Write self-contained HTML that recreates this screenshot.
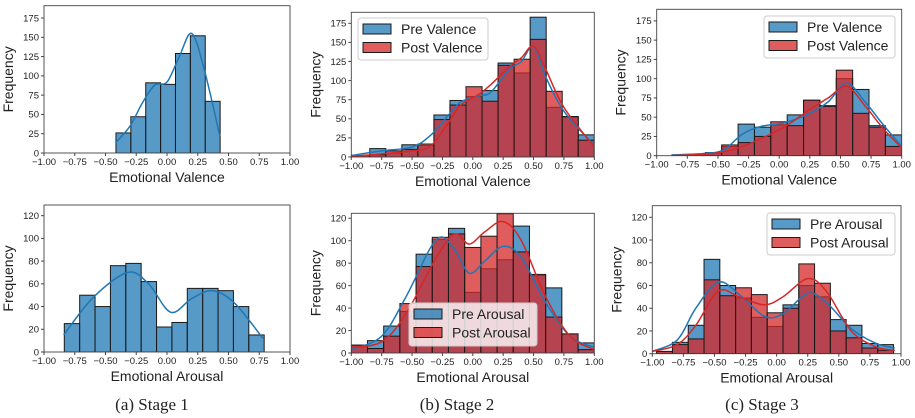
<!DOCTYPE html>
<html><head><meta charset="utf-8"><style>
body{margin:0;background:#fff;width:915px;height:418px;overflow:hidden}
svg{display:block}
text{font-family:"Liberation Sans","DejaVu Sans",sans-serif;fill:#222}
</style></head><body>
<svg id="fig" width="915" height="418" viewBox="0 0 915 418" xmlns="http://www.w3.org/2000/svg"></svg>
<script>
// ---- data ----
const vTicks=[-1,-0.75,-0.5,-0.25,0,0.25,0.5,0.75,1];
const vTickLabels=["\u22121.00","\u22120.75","\u22120.50","\u22120.25","0.00","0.25","0.50","0.75","1.00"];
const yTicksTop=[0,25,50,75,100,125,150,175];
const yTicksBot=[0,20,40,60,80,100,120];

// Stage 1 valence
const s1vStart=-0.415, s1vWidth=0.121;
const s1vPre=[26,47,91,89,129,152,67];
const s1vKdeX=[-0.42,-0.3,-0.2,-0.1,0,0.1,0.2,0.3,0.43];
const s1vKdeY=[13,35,65,88,92,125,155,110,22];
// Stage 2 valence
const s2vStart=-0.98, s2vWidth=0.132;
const s2vPre=[2,11,5,16,15,55,74,79,87,123,110,183,65,52,29];
const s2vPost=[2,3,8,10,17,49,68,92,73,120,128,154,86,53,22];
const s2vKdeX=[-1,-0.75,-0.5,-0.35,-0.2,-0.1,0.05,0.15,0.3,0.4,0.5,0.6,0.75,1];
const s2vPreKde=[2,8,13,28,55,72,80,85,115,125,145,105,60,15];
const s2vPostKde=[1,4,8,14,45,68,82,95,118,130,145,115,65,13];
// Stage 3 valence
const s3vStart=-0.87, s3vWidth=0.1336;
const s3vPre=[1,2,3,12,41,37,40,53,72,65,100,86,39,27];
const s3vPost=[0,2,4,14,17,25,44,39,72,64,111,55,37,12];
const s3vKdeX=[-0.88,-0.6,-0.45,-0.3,-0.15,0.05,0.25,0.4,0.55,0.7,0.85,1];
const s3vPreKde=[1,3,8,28,38,43,55,70,94,70,40,12];
const s3vPostKde=[0,2,5,12,22,38,60,75,90,65,35,10];
// Stage 1 arousal
const s1aStart=-0.835, s1aWidth=0.125;
const s1aPre=[25,50,40,76,78,62,22,26,56,56,54,40,15];
const s1aKdeX=[-0.84,-0.6,-0.32,-0.15,0.03,0.2,0.37,0.55,0.78];
const s1aKdeY=[15,48,70,60,35,47,54,43,12];
// Stage 2 arousal
const s2aStart=-1, s2aWidth=0.1333;
const s2aPre=[7,11,24,37,88,101,111,54,75,83,113,69,58,17,9];
const s2aPost=[7,4,15,44,77,103,106,94,104,124,90,70,32,17,3];
const s2aKdeX=[-1,-0.75,-0.55,-0.3,-0.15,-0.03,0.1,0.25,0.4,0.6,0.8,1];
const s2aPreKde=[3,15,50,101,92,71,82,95,85,45,15,5];
const s2aPostKde=[5,10,35,85,106,97,108,117,100,50,15,3];
// Stage 3 arousal
const s3aStart=-0.965, s3aWidth=0.127;
const s3aPre=[2,10,25,83,60,49,32,24,43,60,50,30,25,9,8];
const s3aPost=[2,8,13,65,51,58,52,36,40,79,62,20,14,5,3];
const s3aKdeX=[-1,-0.8,-0.65,-0.47,-0.3,-0.1,0.05,0.25,0.4,0.6,0.8,0.95];
const s3aPreKde=[2,12,40,63,52,33,35,53,45,22,9,5];
const s3aPostKde=[2,8,25,55,50,43,50,66,55,20,6,3];

// ---- drawing ----
const NS="http://www.w3.org/2000/svg";
const svg=document.getElementById('fig');
function mk(tag,attrs,parent){const e=document.createElementNS(NS,tag);for(const k in attrs)e.setAttribute(k,attrs[k]);(parent||svg).appendChild(e);return e;}
const BLUE="#1f77b4",RED="#d62728";

function smooth(pts){
  let d="M"+pts[0][0]+","+pts[0][1];
  for(let i=0;i<pts.length-1;i++){
    const p0=pts[Math.max(0,i-1)],p1=pts[i],p2=pts[i+1],p3=pts[Math.min(pts.length-1,i+2)];
    const c1=[p1[0]+(p2[0]-p0[0])/6,p1[1]+(p2[1]-p0[1])/6];
    const c2=[p2[0]-(p3[0]-p1[0])/6,p2[1]-(p3[1]-p1[1])/6];
    d+=" C"+c1[0]+","+c1[1]+" "+c2[0]+","+c2[1]+" "+p2[0]+","+p2[1];
  }
  return d;
}

function panel(cfg){
  const g=mk('g',{});
  
  
  const L=cfg.L,R=cfg.R,T=cfg.T,B=cfg.B;
  const xs=v=>L+(v+1)/2*(R-L);
  const ys=v=>B-v/cfg.ymax*(B-T);
  const clip='c'+cfg.name;
  const cp=mk('clipPath',{id:clip},g);mk('rect',{x:L,y:T,width:R-L,height:B-T},cp);
  const pg=mk('g',{'clip-path':'url(#'+clip+')'},g);
  cfg.series.forEach(s=>{
    s.vals.forEach((v,i)=>{
      if(v<=0)return;
      const x0=xs(cfg.start+i*cfg.width),x1=xs(cfg.start+(i+1)*cfg.width);
      const r=mk('rect',{x:x0,y:ys(v),width:x1-x0,height:B-ys(v),fill:s.color,'fill-opacity':0.75,stroke:'#1a1a1a','stroke-width':1},pg);
      
      
    });
  });
  cfg.series.forEach(s=>{
    const pts=s.kx.map((x,i)=>[xs(x),ys(s.ky[i])]);
    const p=mk('path',{d:smooth(pts),fill:'none',stroke:s.color,'stroke-width':1.5},pg);
    
    
  });
  mk('rect',{x:L,y:T,width:R-L,height:B-T,fill:'none',stroke:'#444','stroke-width':0.9},g);
  vTicks.forEach((t,i)=>{
    const x=xs(t);
    mk('line',{x1:x,x2:x,y1:B,y2:B+3,stroke:'#444'},g);
    const tx=mk('text',{x:x,y:B+12,'text-anchor':'middle','font-size':9.5},g);
    tx.textContent=vTickLabels[i];
    
    
  });
  cfg.yticks.forEach(t=>{
    const y=ys(t);
    mk('line',{x1:L-3,x2:L,y1:y,y2:y,stroke:'#444'},g);
    const tx=mk('text',{x:L-5,y:y+3.3,'text-anchor':'end','font-size':9.5},g);
    tx.textContent=t;
    
    
  });
  const xl=mk('text',{x:(L+R)/2,y:B+29,'text-anchor':'middle','font-size':14},g);
  xl.textContent=cfg.xlabel;
  
  
  const yl=mk('text',{x:0,y:0,'text-anchor':'middle','font-size':14,transform:'translate('+(L-31)+','+((T+B)/2)+') rotate(-90)'},g);
  yl.textContent='Frequency';
  
  
  if(cfg.legend){
    const lg=cfg.legend;
    const lgg=mk('g',{},g);
    
    
    mk('rect',{x:lg.x,y:lg.y,width:lg.w,height:lg.h,rx:3,fill:'#fff','fill-opacity':0.8,stroke:'#ccc'},lgg);
    cfg.series.forEach((s,i)=>{
      const yy=lg.y+6+i*18.5;
      mk('rect',{x:lg.x+5,y:yy,width:28,height:10,fill:s.color,'fill-opacity':0.75,stroke:'#1a1a1a'},lgg);
      const t=mk('text',{x:lg.x+43,y:yy+10,'font-size':14},lgg);
      t.textContent=s.label;
      
      
    });
  }
}

panel({name:'s1-valence',L:44,R:290,T:5.7,B:153,ymax:191,start:s1vStart,width:s1vWidth,yticks:yTicksTop,xlabel:'Emotional Valence',
  series:[{label:'Pre Valence',color:BLUE,vals:s1vPre,kx:s1vKdeX,ky:s1vKdeY}]});
panel({name:'s2-valence',L:351.3,R:594.3,T:12.3,B:157,ymax:189.4,start:s2vStart,width:s2vWidth,yticks:yTicksTop,xlabel:'Emotional Valence',
  legend:{x:358,y:18,w:130,h:42},
  series:[{label:'Pre Valence',color:BLUE,vals:s2vPre,kx:s2vKdeX,ky:s2vPreKde},{label:'Post Valence',color:RED,vals:s2vPost,kx:s2vKdeX,ky:s2vPostKde}]});
panel({name:'s3-valence',L:656.7,R:901.7,T:9.3,B:155.7,ymax:190,start:s3vStart,width:s3vWidth,yticks:yTicksTop,xlabel:'Emotional Valence',
  legend:{x:764,y:16,w:131,h:42},
  series:[{label:'Pre Valence',color:BLUE,vals:s3vPre,kx:s3vKdeX,ky:s3vPreKde},{label:'Post Valence',color:RED,vals:s3vPost,kx:s3vKdeX,ky:s3vPostKde}]});
panel({name:'s1-arousal',L:44,R:290,T:205,B:352,ymax:129.4,start:s1aStart,width:s1aWidth,yticks:yTicksBot,xlabel:'Emotional Arousal',
  series:[{label:'Pre Arousal',color:BLUE,vals:s1aPre,kx:s1aKdeX,ky:s1aKdeY}]});
panel({name:'s2-arousal',L:351.3,R:594.3,T:213.3,B:353,ymax:124.4,start:s2aStart,width:s2aWidth,yticks:yTicksBot,xlabel:'Emotional Arousal',
  legend:{x:409,y:303,w:128,h:43},
  series:[{label:'Pre Arousal',color:BLUE,vals:s2aPre,kx:s2aKdeX,ky:s2aPreKde},{label:'Post Arousal',color:RED,vals:s2aPost,kx:s2aKdeX,ky:s2aPostKde}]});
panel({name:'s3-arousal',L:652.3,R:901,T:205.7,B:353.7,ymax:130.2,start:s3aStart,width:s3aWidth,yticks:yTicksBot,xlabel:'Emotional Arousal',
  legend:{x:767,y:213,w:128,h:42},
  series:[{label:'Pre Arousal',color:BLUE,vals:s3aPre,kx:s3aKdeX,ky:s3aPreKde},{label:'Post Arousal',color:RED,vals:s3aPost,kx:s3aKdeX,ky:s3aPostKde}]});

[["(a) Stage 1",152],["(b) Stage 2",457],["(c) Stage 3",762]].forEach(c=>{
  const t=mk('text',{x:c[1],y:410,'text-anchor':'middle','font-size':17,style:'font-family:"Liberation Serif","DejaVu Serif",serif'});
  t.textContent=c[0];
  
  
});
</script>
</body></html>
